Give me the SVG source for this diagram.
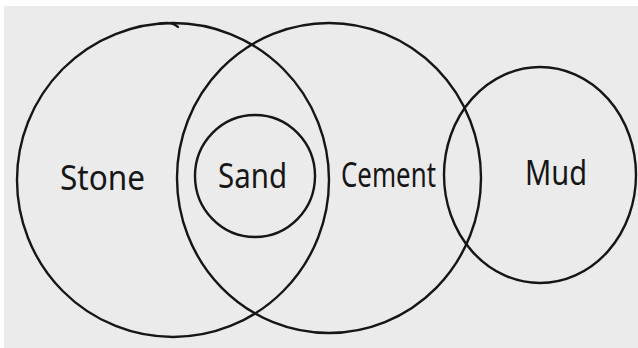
<svg xmlns="http://www.w3.org/2000/svg" width="638" height="348" viewBox="0 0 638 348">
  <style>
    .ring { fill: none; stroke: #161616; stroke-width: 2.4; stroke-linecap: round; }
    .lbl { font-family: "Noto Sans", "Liberation Sans", sans-serif; font-size: 35px; fill: #161616; font-weight: 400; }
  </style>
  <rect x="0" y="0" width="638" height="348" fill="#ffffff"/>
  <rect x="4" y="6" width="634" height="342" fill="#ebebeb"/>
  <g id="stone">
    <ellipse class="ring" cx="173" cy="180" rx="156" ry="157"/>
    <path class="ring" d="M 160 23.5 C 168 22 174 23 178 27"/>
    <text class="lbl" x="60" y="190" textLength="85" lengthAdjust="spacingAndGlyphs">Stone</text>
  </g>
  <g id="cement">
    <ellipse class="ring" cx="329" cy="178" rx="152" ry="155"/>
    <text class="lbl" x="341" y="187" textLength="95" lengthAdjust="spacingAndGlyphs">Cement</text>
  </g>
  <g id="sand">
    <ellipse class="ring" cx="255" cy="176" rx="60" ry="61"/>
    <text class="lbl" x="218" y="188" textLength="69" lengthAdjust="spacingAndGlyphs">Sand</text>
  </g>
  <g id="mud">
    <ellipse class="ring" cx="540" cy="175" rx="96" ry="108"/>
    <text class="lbl" x="525" y="185" textLength="62" lengthAdjust="spacingAndGlyphs">Mud</text>
  </g>
</svg>
